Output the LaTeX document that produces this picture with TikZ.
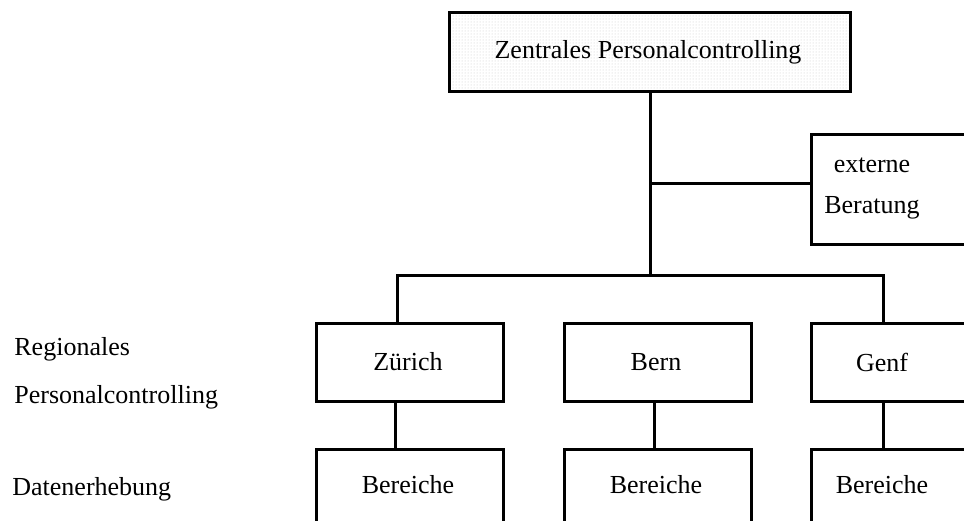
\documentclass[tikz,border=0pt]{standalone}
\usepackage{fontspec}
\setmainfont{Liberation Serif}
\usetikzlibrary{patterns}
\begin{document}
\begin{tikzpicture}[x=1pt,y=-1pt, line width=2.8pt,
  txt/.style={font=\fontsize{26}{31}\selectfont, inner sep=0pt},
  unit/.style={draw, line width=2.8pt, anchor=north west, inner sep=0pt},
  conn/.style={draw, line width=3pt, line cap=rect}]
\useasboundingbox (0,0) rectangle (964,520);

% head office
\node[unit, minimum width=401pt, minimum height=79pt, fill=white,
      pattern=dots, pattern color=gray!45] (zpc) at (448,11) {};
\node[txt] (zpctext) at (648,52) {Zentrales Personalcontrolling};

% external consulting
\node[unit, minimum width=200pt, minimum height=110pt] (ext) at (810,133) {};
\node[txt, anchor=base] (ext1) at (872,172) {externe};
\node[txt, anchor=base] (ext2) at (872,213) {Beratung};

% regional units
\node[unit, minimum width=187pt, minimum height=78pt] (zh) at (315,322) {};
\node[unit, minimum width=187pt, minimum height=78pt] (be) at (563,322) {};
\node[unit, minimum width=200pt, minimum height=78pt] (ge) at (810,322) {};
\node[txt] (zhtext) at (408,362) {Zürich};
\node[txt] (betext) at (656,362) {Bern};
\node[txt] (getext) at (882,362) {Genf};

% data collection
\node[unit, minimum width=187pt, minimum height=100pt] (zhb) at (315,448) {};
\node[unit, minimum width=187pt, minimum height=100pt] (beb) at (563,448) {};
\node[unit, minimum width=200pt, minimum height=100pt] (geb) at (810,448) {};
\node[txt] (zhbtext) at (408,485) {Bereiche};
\node[txt] (bebtext) at (656,485) {Bereiche};
\node[txt] (gebtext) at (882,485) {Bereiche};

% row labels
\node[txt, anchor=west] (lreg) at (13,349) {Regionales};
\node[txt, anchor=west] (lpc) at (13,397) {Personalcontrolling};
\node[txt, anchor=west] (ldat) at (11,489) {Datenerhebung};

% connectors
\coordinate (hub) at (650,275);
\coordinate (side) at (650,183);
\coordinate (busl) at (397,275);
\coordinate (busr) at (883,275);
\path[conn] (zpc.south -| hub) -- (hub);
\path[conn] (side) -- (ext.west |- side);
\path[conn] (zh.north -| busl) -- (busl) -- (busr) -- (ge.north -| busr);
\path[conn] (zh.south -| 395,0) -- (zhb.north -| 395,0);
\path[conn] (be.south -| 654,0) -- (beb.north -| 654,0);
\path[conn] (ge.south -| 883,0) -- (geb.north -| 883,0);
\end{tikzpicture}
\end{document}
